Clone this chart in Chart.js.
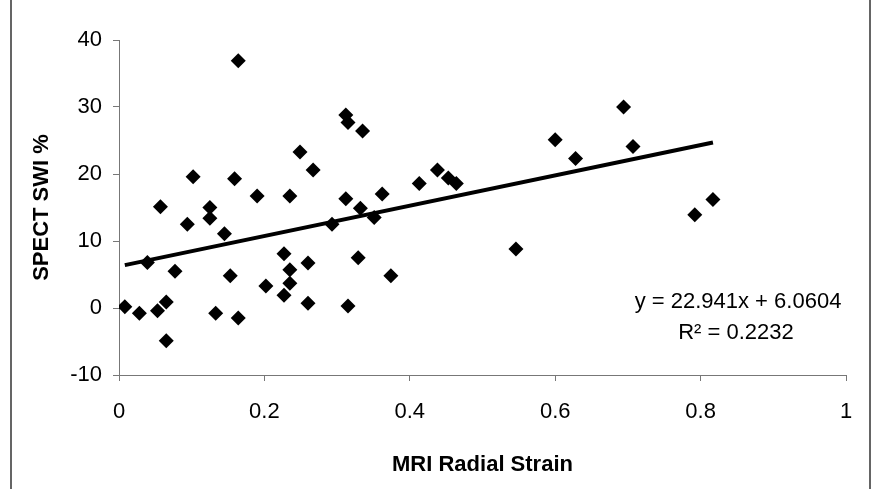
<!DOCTYPE html>
<html>
<head>
<meta charset="utf-8">
<title>SPECT SWI vs MRI Radial Strain</title>
<script src="https://cdn.jsdelivr.net/npm/chart.js@4"></script>
<style>
  html, body { margin: 0; padding: 0; background: #fff; }
  #wrap { position: relative; width: 874px; height: 489px; }
</style>
</head>
<body>
<div id="wrap"><canvas id="strainChart"></canvas></div>
<script>
// Dữ liệu
const strainX = [0.008, 0.028, 0.039, 0.053, 0.057, 0.065, 0.065, 0.077, 0.094, 0.102,
                 0.125, 0.125, 0.133, 0.145, 0.153, 0.159, 0.164, 0.164, 0.190, 0.202,
                 0.227, 0.227, 0.235, 0.235, 0.235, 0.249, 0.260, 0.260, 0.267, 0.293,
                 0.312, 0.315, 0.312, 0.315, 0.329, 0.332, 0.335, 0.351, 0.362, 0.374,
                 0.413, 0.438, 0.453, 0.464, 0.546, 0.600, 0.628, 0.694, 0.707, 0.792, 0.817];
const swiY = [0.2, -0.8, 6.8, -0.4, 15.1, 0.9, -4.9, 5.5, 12.5, 19.6,
              15.0, 13.4, -0.8, 11.1, 4.8, 19.3, 36.9, -1.5, 16.7, 3.3,
              8.1, 1.9, 16.7, 5.7, 3.7, 23.3, 6.7, 0.7, 20.6, 12.5,
              28.8, 27.7, 16.3, 0.3, 7.5, 14.9, 26.4, 13.5, 17.0, 4.8,
              18.6, 20.6, 19.4, 18.6, 8.8, 25.1, 22.3, 30.0, 24.1, 13.9, 16.2];

// Đường xu hướng (hai đầu mút)
const trendX = [0.008, 0.817];
const trendY = [6.4, 24.7];

const xTicks = [0, 0.2, 0.4, 0.6, 0.8, 1];
const yTicks = [-10, 0, 10, 20, 30, 40];
const equationLines = ['y = 22.941x + 6.0604', 'R\u00b2 = 0.2232'];

const FONT = '"Liberation Sans", Arial, Helvetica, sans-serif';

// Khung viền trái / phải và phương trình hồi quy
const extrasPlugin = {
  id: 'extras',
  afterDraw(chart) {
    const ctx = chart.ctx;
    const area = chart.chartArea;
    ctx.save();
    ctx.strokeStyle = '#333';
    ctx.lineWidth = 1.5;
    ctx.beginPath();
    ctx.moveTo(11, 0); ctx.lineTo(11, chart.height);
    ctx.moveTo(870, 0); ctx.lineTo(870, chart.height);
    ctx.stroke();

    ctx.fillStyle = '#000';
    ctx.font = '22px ' + FONT;
    ctx.textAlign = 'center';
    ctx.textBaseline = 'middle';
    ctx.fillText(equationLines[0], area.right - 108, area.top + 262);
    ctx.fillText(equationLines[1], area.right - 110, area.top + 293);
    ctx.restore();
  }
};

function initStrainChart() {
  const ctx = document.getElementById('strainChart');
  const points = strainX.map((x, i) => ({ x: x, y: swiY[i] }));
  const trend = trendX.map((x, i) => ({ x: x, y: trendY[i] }));

  return new Chart(ctx, {
    type: 'scatter',
    data: {
      datasets: [
        {
          label: 'SWI',
          data: points,
          pointStyle: 'rectRot',
          pointRadius: 7.5,
          backgroundColor: '#000',
          borderColor: '#000',
          borderWidth: 0
        },
        {
          type: 'line',
          label: 'Trend',
          data: trend,
          borderColor: '#000',
          borderWidth: 4,
          pointRadius: 0,
          fill: false
        }
      ]
    },
    options: {
      responsive: true,
      maintainAspectRatio: false,
      animation: false,
      layout: { padding: { left: 0, top: 40, right: 28, bottom: 0 } },
      plugins: { legend: { display: false }, tooltip: { enabled: false } },
      scales: {
        x: {
          type: 'linear',
          min: 0,
          max: 1,
          afterBuildTicks: s => { s.ticks = xTicks.map(v => ({ value: v })); },
          afterFit: s => { s.height = 114; },
          grid: { drawOnChartArea: false, drawTicks: true, tickLength: 6, color: '#777' },
          border: { color: '#777', width: 1 },
          ticks: {
            color: '#000',
            padding: 18,
            font: { family: FONT, size: 22 },
            callback: v => String(v)
          },
          title: {
            display: true,
            text: 'MRI Radial Strain',
            color: '#000',
            padding: { top: 0, bottom: 11 },
            font: { family: FONT, size: 22, weight: 'bold' }
          }
        },
        y: {
          type: 'linear',
          min: -10,
          max: 40,
          afterBuildTicks: s => { s.ticks = yTicks.map(v => ({ value: v })); },
          afterFit: s => { s.width = 119; },
          grid: { drawOnChartArea: false, drawTicks: true, tickLength: 6, color: '#777' },
          border: { color: '#777', width: 1 },
          ticks: {
            color: '#000',
            padding: 11,
            font: { family: FONT, size: 22 },
            callback: v => String(v)
          },
          title: {
            display: true,
            text: 'SPECT SWI %',
            color: '#000',
            padding: { top: 29, bottom: 0 },
            font: { family: FONT, size: 22, weight: 'bold' }
          }
        }
      }
    },
    plugins: [extrasPlugin]
  });
}

document.addEventListener('DOMContentLoaded', function () {
  initStrainChart();
});
</script>
</body>
</html>
